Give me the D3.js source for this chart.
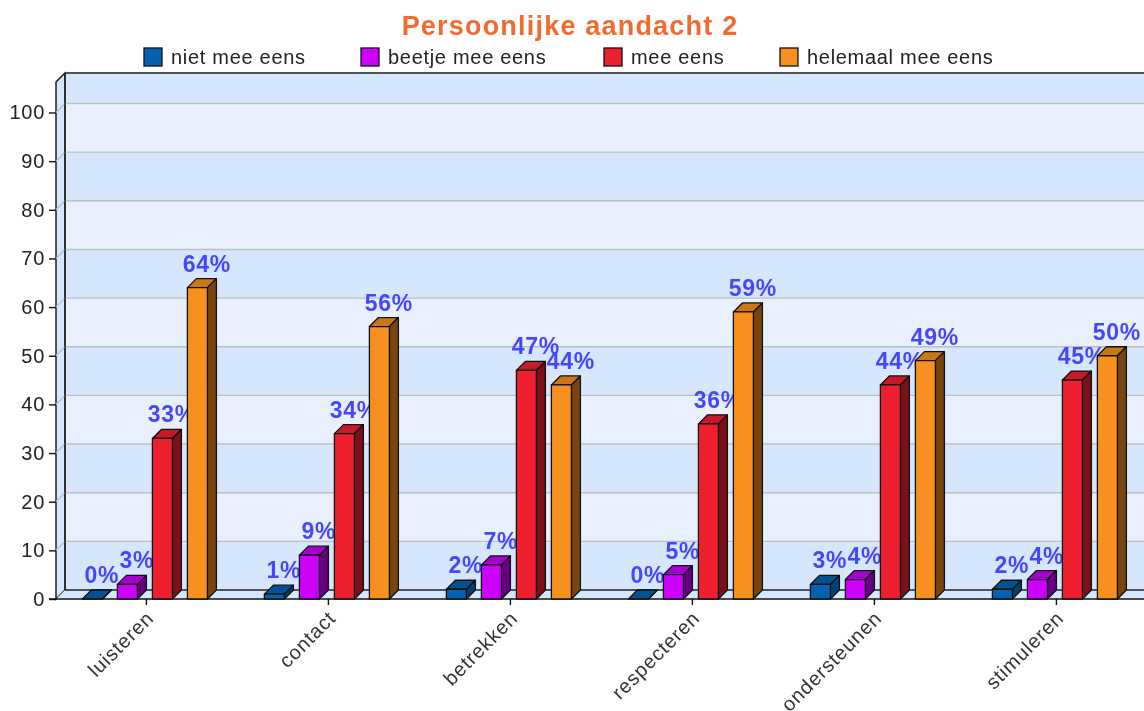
<!DOCTYPE html>
<html>
<head>
<meta charset="utf-8">
<script src="https://cdnjs.cloudflare.com/ajax/libs/d3/7.8.5/d3.min.js"></script>
<style>
html, body { margin: 0; padding: 0; background: #fff; overflow: hidden; }
svg { filter: blur(0.4px); }
text { font-family: "Liberation Sans", sans-serif; }
</style>
</head>
<body>
<svg id="chart" width="1144" height="711"></svg>
<script>
const title = 'Persoonlijke aandacht 2';
const categories = ['luisteren', 'contact', 'betrekken', 'respecteren', 'ondersteunen', 'stimuleren'];
const seriesNames = ['niet mee eens', 'beetje mee eens', 'mee eens', 'helemaal mee eens'];
const nietMeeEens = [0, 1, 2, 0, 3, 2];
const beetjeMeeEens = [3, 9, 7, 5, 4, 4];
const meeEens = [33, 34, 47, 36, 44, 45];
const helemaalMeeEens = [64, 56, 44, 59, 49, 50];
const yTicks = [0, 10, 20, 30, 40, 50, 60, 70, 80, 90, 100];
const colors = ['#0561b1', '#cc00ff', '#ee1f2f', '#f7901e'];
const topColors = ['#05508f', '#a800cf', '#c41a29', '#c97816'];
const sideColors = ['#03406f', '#66007f', '#79101a', '#78450f'];

const seriesValues = [nietMeeEens, beetjeMeeEens, meeEens, helemaalMeeEens];
const legendX = [144, 361, 604, 780];

const depth = 9;
const barW = 20;
const baseY = 599;
const left = 56;

const svg = d3.select('#chart');

const y = d3.scaleLinear().domain([0, 100]).range([baseY, 112.5]);
const x = d3.scaleBand().domain(categories).range([left - 0.6, left - 0.6 + 182 * 6]);
const sx = d3.scaleBand().domain(d3.range(4)).range([-64, 76]);
const topY = 82;

// walls
const wall = svg.append('g');
const bands = d3.range(0, 110, 10);
wall.selectAll('rect.band').data(bands).join('rect')
    .attr('x', left + depth).attr('width', 1144 - left - depth)
    .attr('y', d => Math.max(y(d + 10), topY) - depth)
    .attr('height', d => y(d) - Math.max(y(d + 10), topY))
    .attr('fill', d => d % 20 === 0 ? '#d6e6fd' : '#e8f0fe');
wall.append('path')
    .attr('d', `M${left},${topY}L${left + depth},${topY - depth}V${baseY - depth}L${left},${baseY}Z`)
    .attr('fill', '#d6e6fd').attr('stroke', '#111').attr('stroke-width', 1.4);
wall.selectAll('path.grid').data(yTicks.slice(1)).join('path')
    .attr('d', d => `M${left},${y(d)}L${left + depth},${y(d) - depth}H1144`)
    .attr('fill', 'none').attr('stroke', '#bebebe').attr('stroke-width', 1.4);
wall.append('path')
    .attr('d', `M${left},${baseY}L${left + depth},${baseY - depth}H1144V${baseY}Z`)
    .attr('fill', '#d6e6fd');
wall.append('path')
    .attr('d', `M${left + depth},${baseY - depth}H1144M${left + depth},${topY - depth}H1144M${left + depth},${topY - depth}V${baseY - depth}`)
    .attr('stroke', '#222').attr('stroke-width', 1.4);

// axes
const yAxis = svg.append('g').attr('transform', `translate(${left},0)`)
    .call(d3.axisLeft(y).tickValues(yTicks).tickSize(7).tickPadding(4).tickSizeOuter(0));
yAxis.select('.domain').remove();
yAxis.selectAll('text').attr('font-size', 20).attr('fill', '#222').attr('letter-spacing', 0.7);
yAxis.selectAll('line').attr('stroke', '#111').attr('stroke-width', 1.4);

const xAxis = svg.append('g').attr('transform', `translate(0,${baseY})`)
    .call(d3.axisBottom(x).tickSize(6).tickSizeOuter(0));
xAxis.select('.domain').attr('d', `M${left - 7},0H1144`).attr('stroke', '#111').attr('stroke-width', 1.4);
xAxis.selectAll('line').attr('stroke', '#111').attr('stroke-width', 1.4);
xAxis.selectAll('text')
    .attr('font-size', 20).attr('fill', '#333')
    .attr('letter-spacing', 0.8)
    .attr('text-anchor', 'end')
    .attr('transform', 'translate(0,12) rotate(-45)')
    .attr('dy', '0.6em').attr('y', 0).attr('x', 0);

// bars, one group per category, labels go with their bar so later bars cover them
const groups = svg.append('g').selectAll('g').data(categories).join('g')
    .attr('transform', d => `translate(${x(d) + x.bandwidth() / 2},0)`);

groups.each(function(cat, ci){
    const g = d3.select(this);
    seriesValues.forEach((vals, si) => {
        const v = vals[ci];
        const x0 = sx(si);
        const yv = y(v);
        const bar = g.append('g').attr('stroke', '#111').attr('stroke-width', 1.3).attr('stroke-linejoin', 'round');
        bar.append('path')
            .attr('d', `M${x0},${yv}L${x0 + depth},${yv - depth}H${x0 + barW + depth}L${x0 + barW},${yv}Z`)
            .attr('fill', topColors[si]);
        bar.append('path')
            .attr('d', `M${x0 + barW},${yv}L${x0 + barW + depth},${yv - depth}V${baseY - depth}L${x0 + barW},${baseY}Z`)
            .attr('fill', sideColors[si]);
        bar.append('rect')
            .attr('x', x0).attr('y', yv).attr('width', barW).attr('height', baseY - yv)
            .attr('fill', colors[si]);
        g.append('text')
            .attr('x', x0 + barW - 0.5)
            .attr('y', yv - depth - 7)
            .attr('text-anchor', 'middle')
            .attr('font-size', 23).attr('font-weight', 'bold')
            .attr('letter-spacing', 0.8)
            .attr('fill', '#4646ff')
            .text(v + '%');
    });
});

// title and legend
svg.append('text')
    .attr('x', 570).attr('y', 35)
    .attr('text-anchor', 'middle')
    .attr('font-size', 27).attr('font-weight', 'bold')
    .attr('letter-spacing', 1.2)
    .attr('fill', '#f26a2e')
    .text(title);

const legend = svg.append('g').selectAll('g').data(seriesNames).join('g')
    .attr('transform', (d, i) => `translate(${legendX[i]},48)`);
legend.append('rect')
    .attr('width', 18).attr('height', 18)
    .attr('fill', (d, i) => colors[i]).attr('stroke', '#111').attr('stroke-width', 1.3);
legend.append('text')
    .attr('x', 27).attr('y', 16)
    .attr('font-size', 20).attr('fill', '#222')
    .attr('letter-spacing', 0.7)
    .text(d => d);
</script>
</body>
</html>
